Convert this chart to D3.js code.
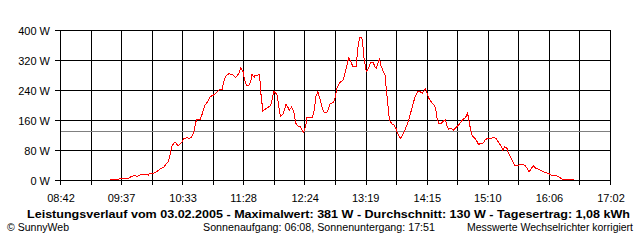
<!DOCTYPE html>
<html>
<head>
<meta charset="utf-8">
<script src="https://cdn.jsdelivr.net/npm/d3@7"></script>
<style>
  html, body { margin: 0; padding: 0; background: #fff; }
  svg { display: block; }
  text { font-family: "Liberation Sans", Arial, sans-serif; fill: #000; }
</style>
</head>
<body>
<svg id="chart" width="640" height="240"></svg>
<script>
// ---- data ----
const times = ["09:27","09:43","09:46","09:49","09:52","09:56","09:59","10:02","10:03","10:07",
  "10:10","10:13","10:16","10:18","10:20","10:22","10:23","10:26","10:29","10:31",
  "10:33","10:34","10:37","10:39","10:41","10:43","10:45","10:46","10:49","10:51",
  "10:53","10:56","10:58","11:01","11:03","11:06","11:09","11:10","11:12","11:15",
  "11:19","11:21","11:24","11:26","11:28","11:29","11:31","11:33","11:35","11:36",
  "11:38","11:39","11:41","11:43","11:44","11:45","11:46","11:48","11:51","11:53",
  "11:54","11:56","11:59","12:00","12:02","12:04","12:06","12:07","12:09","12:10",
  "12:12","12:14","12:15","12:16","12:18","12:20","12:21","12:23","12:25","12:26",
  "12:29","12:31","12:33","12:34","12:36","12:38","12:40","12:42","12:44","12:46",
  "12:47","12:50","12:52","12:53","12:56","12:59","13:01","13:03","13:04","13:06",
  "13:08","13:11","13:12","13:14","13:16","13:17","13:18","13:19","13:20","13:22",
  "13:24","13:26","13:28","13:29","13:31","13:32","13:33","13:35","13:37","13:38",
  "13:40","13:41","13:43","13:45","13:47","13:48","13:51","13:53","13:55","13:57",
  "13:59","14:01","14:03","14:05","14:07","14:09","14:11","14:12","14:14","14:15",
  "14:17","14:19","14:21","14:23","14:24","14:26","14:28","14:30","14:32","14:33",
  "14:35","14:37","14:39","14:41","14:43","14:44","14:46","14:48","14:50","14:52",
  "14:53","14:54","14:56","14:58","15:00","15:02","15:04","15:06","15:08","15:10",
  "15:13","15:16","15:18","15:20","15:23","15:24","15:26","15:28","15:29","15:31",
  "15:33","15:35","15:38","15:42","15:44","15:46","15:48","15:50","15:52","15:54",
  "15:57","16:00","16:03","16:06","16:08","16:12","16:15","16:18","16:23","16:29"];
const watts = [3,5,10,13,11,17,17,14,20,20,
  25,32,36,44,50,72,90,103,92,99,
  105,112,114,112,116,128,156,163,163,179,
  199,211,223,228,232,241,243,259,277,285,
  281,274,285,301,290,272,254,252,263,283,
  275,281,280,283,237,210,185,190,196,199,
  211,238,228,205,170,176,192,203,194,188,
  196,185,167,152,145,143,137,128,148,167,
  167,167,192,223,237,216,192,181,181,194,
  205,208,223,244,261,268,290,316,327,316,
  303,303,350,381,380,356,325,308,290,299,
  316,316,303,299,316,327,308,294,281,250,
  192,161,152,148,139,128,112,121,134,148,
  165,188,210,228,237,237,232,238,244,235,
  219,210,203,194,170,152,152,158,163,148,
  137,139,134,139,146,148,156,163,167,179,
  167,148,121,114,108,96,99,99,108,112,
  112,115,112,103,90,81,90,85,75,63,
  51,41,41,43,41,34,23,32,39,32,
  30,25,21,19,14,14,10,4,3,3];
const average = 130;
const yTickValues = [0, 80, 160, 240, 320, 400];
const xTickLabels = ["08:42","09:37","10:33","11:28","12:24","13:19","14:15","15:10","16:06","17:02"];
const gridDivisions = 18;
const titleText = "Leistungsverlauf vom 03.02.2005 - Maximalwert: 381 W - Durchschnitt: 130 W - Tagesertrag: 1,08 kWh";
const copyrightText = "\u00A9 SunnyWeb";
const sunText = "Sonnenaufgang: 06:08, Sonnenuntergang: 17:51";
const noteText = "Messwerte Wechselrichter korrigiert";

// ---- drawing ----
(function () {
const parse = d3.timeParse("%H:%M");
const svg = d3.select("#chart");
const mLeft = 60, mRight = 610, mTop = 30, mBottom = 180;

const t0 = parse(xTickLabels[0]), t1 = parse(xTickLabels[xTickLabels.length - 1]);
const x = d3.scaleTime().domain([t0, t1]).range([mLeft, mRight]);
const y = d3.scaleLinear().domain([0, 400]).range([mBottom, mTop]);
const px = v => Math.round(v) + 0.5;

const gridTimes = d3.range(gridDivisions + 1).map(i => new Date(+t0 + (t1 - t0) * i / gridDivisions));

const grid = svg.append("g").attr("shape-rendering", "crispEdges");
grid.selectAll("line.v").data(gridTimes).join("line")
  .attr("x1", d => px(x(d))).attr("x2", d => px(x(d)))
  .attr("y1", mTop).attr("y2", mBottom + 5)
  .attr("stroke", "#000").attr("stroke-width", 1);
grid.selectAll("line.h").data(yTickValues).join("line")
  .attr("x1", mLeft - 5).attr("x2", mRight + 1)
  .attr("y1", d => px(y(d))).attr("y2", d => px(y(d)))
  .attr("stroke", "#000").attr("stroke-width", 1);

svg.append("line").attr("shape-rendering", "crispEdges")
  .attr("x1", mLeft + 1).attr("x2", mRight)
  .attr("y1", px(y(average))).attr("y2", px(y(average)))
  .attr("stroke", "#808080").attr("stroke-width", 1);

const data = times.map((t, i) => ({ t: parse(t), w: watts[i] }));
const line = d3.line().x(d => x(d.t) + 0.5).y(d => y(d.w) + 0.5);
svg.append("path").datum(data)
  .attr("d", line)
  .attr("fill", "none").attr("stroke", "#ff0000").attr("stroke-width", 1)
  .attr("shape-rendering", "crispEdges");

svg.selectAll("text.yl").data(yTickValues).join("text")
  .attr("x", 50).attr("y", d => y(d) + 4.5)
  .attr("text-anchor", "end").attr("font-size", 11)
  .text(d => d + " W");

svg.selectAll("text.xl").data(xTickLabels).join("text")
  .attr("x", d => x(parse(d)) + 1).attr("y", 202)
  .attr("text-anchor", "middle").attr("font-size", 11)
  .text(d => d);

function fitText(sel, targetWidth) {
  const w = sel.node().getComputedTextLength();
  if (Math.abs(w - targetWidth) > 1) sel.attr("textLength", targetWidth).attr("lengthAdjust", "spacingAndGlyphs");
}
const title = svg.append("text").attr("x", 27).attr("y", 218)
  .attr("font-size", 11).attr("font-weight", "bold").text(titleText);
fitText(title, 603);
const c = svg.append("text").attr("x", 7).attr("y", 230.5).attr("font-size", 10).text(copyrightText);
fitText(c, 62);
const s = svg.append("text").attr("x", 203).attr("y", 230.5).attr("font-size", 10).text(sunText);
fitText(s, 232);
const n = svg.append("text").attr("x", 467).attr("y", 230.5).attr("font-size", 10).text(noteText);
fitText(n, 166);
})();
</script>
</body>
</html>
